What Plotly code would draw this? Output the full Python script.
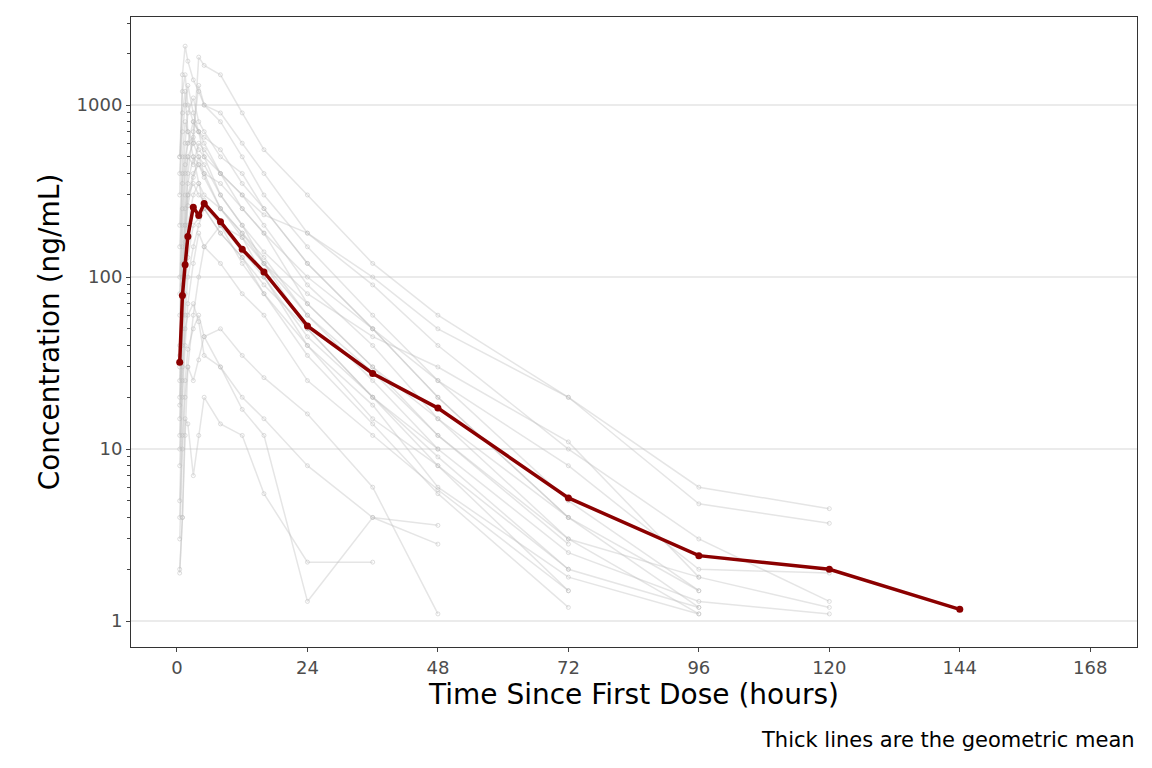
import plotly.graph_objects as go

times = [0.5, 1, 1.5, 2, 3, 4, 5, 8, 12, 16, 24, 36, 48, 72, 96, 120]

subjects = [
    [300, 1500, 2200, 1800, 1400, 1200, 1000, 900, 600, 400, 180, 90, 40, 10, 3, 1.3],
    [20, 80, 200, 400, 700, 1300, 1000, 800, 500, 300, 150, 60, 25, 5, 1.5],
    [2, 4, 12, 30, 60, 100, 150, 200, 120, 80, 40, 15, 8, 2],
    [100, 400, 600, 900, 1100, 800, 700, 500, 400, 250, 120, 50, 20, 4, 1.2],
    [40, 150, 300, 500, 450, 600, 550, 400, 300, 200, 90, 40, 15, 3, 1.1],
    [8, 25, 60, 100, 150, 200, 250, 180, 130, 90, 50, 20, 10, 2.5, 1.3, 1.1],
    [500, 1200, 1500, 1000, 800, 700, 500, 300, 200, 120, 50, 20, 8, 1.5],
    [3, 10, 20, 30, 25, 33, 45, 30, 20, 15, 8, 4, 2.8],
    [200, 500, 800, 700, 600, 500, 400, 250, 180, 120, 60, 25, 10],
    [15, 50, 120, 200, 300, 350, 300, 250, 180, 130, 60, 28, 12, 3, 1.8, 1.2],
    [1.9, 4, 15, 14, 7, 12, 20, 14, 12, 5.5, 2.2, 2.2],
    [60, 200, 400, 500, 600, 1900, 1700, 1500, 900, 550, 300, 120, 60, 20, 6, 4.5],
    [25, 90, 150, 300, 400, 450, 380, 250, 170, 100, 45, 20, 9, 2, 1.2],
    [10, 30, 50, 60, 70, 55, 35, 30, 17, 12, 1.3, 4, 3.6],
    [400, 700, 1000, 1300, 900, 700, 600, 400, 250, 180, 70, 30, 12, 2.8],
    [30, 100, 250, 350, 500, 450, 400, 350, 250, 180, 100, 50, 25, 8, 2, 1.9],
    [5, 20, 40, 70, 120, 180, 150, 120, 80, 60, 25, 12, 5.8, 1.5],
    [150, 350, 500, 600, 650, 550, 500, 400, 300, 230, 180, 100, 50, 20, 4.8, 3.7],
    [80, 250, 450, 600, 800, 700, 650, 550, 350, 250, 120, 50, 20, 4],
    [12, 40, 80, 130, 200, 220, 260, 200, 140, 100, 40, 18, 6, 1.8, 1.1],
    [35, 120, 200, 300, 350, 300, 280, 200, 170, 120, 70, 30, 15, 4, 1.5],
    [4, 12, 25, 38, 50, 60, 45, 50, 35, 26, 16, 6, 1.1],
    [500, 900, 1200, 700, 500, 350, 250, 180, 130, 80, 35, 14, 5.5, 1.2],
    [18, 60, 160, 260, 380, 500, 450, 300, 200, 140, 80, 45, 30, 11, 1.8],
]

mean_times = [0.5, 1, 1.5, 2, 3, 4, 5, 8, 12, 16, 24, 36, 48, 72, 96, 120, 144]
mean_conc = [32, 78, 118, 172, 255, 228, 268, 210, 145, 107, 52, 27.5, 17.3, 5.2, 2.4, 2.0, 1.17]

fig = go.Figure()

for conc in subjects:
    fig.add_trace(go.Scatter(
        x=times[:len(conc)], y=conc, mode="lines+markers",
        line=dict(color="rgba(190,190,190,0.4)", width=1.5),
        marker=dict(symbol="circle-open", size=4, color="rgba(190,190,190,0.5)"),
        showlegend=False, hoverinfo="skip",
    ))

fig.add_trace(go.Scatter(
    x=mean_times, y=mean_conc, mode="lines+markers",
    line=dict(color="#8B0000", width=3.5),
    marker=dict(size=7, color="#8B0000"),
    showlegend=False,
))

fig.add_annotation(
    text="Thick lines are the geometric mean", xref="paper", yref="paper",
    x=1, y=-0.125, xanchor="right", yanchor="top", showarrow=False,
    font=dict(size=21, color="black"),
)

fig.update_xaxes(
    range=[-8.46, 176.6], tickvals=[0, 24, 48, 72, 96, 120, 144, 168],
    showgrid=False, zeroline=False, ticks="outside", ticklen=4,
    showline=True, mirror=True, linecolor="#333333", linewidth=1,
    title=dict(text="Time Since First Dose (hours)", font=dict(size=28, color="black"), standoff=4),
    tickfont=dict(size=18, color="#4d4d4d"),
)
fig.update_yaxes(
    type="log", range=[-0.151, 3.512], tickvals=[1, 10, 100, 1000],
    ticktext=["1", "10", "100", "1000"],
    showgrid=True, gridcolor="#ebebeb", gridwidth=1.5, zeroline=False,
    ticks="outside", ticklen=4,
    minor=dict(ticks="outside", ticklen=3, tickvals=[v * m for m in [1, 10, 100, 1000] for v in range(2, 10)], showgrid=False),
    showline=True, mirror=True, linecolor="#333333", linewidth=1,
    title=dict(text="Concentration (ng/mL)", font=dict(size=28, color="black"), standoff=8),
    tickfont=dict(size=18, color="#4d4d4d"),
)

fig.update_layout(
    width=1152, height=768,
    margin=dict(l=123, r=23, t=9, b=129),
    plot_bgcolor="white", paper_bgcolor="white",
    font=dict(family="DejaVu Sans"),
)

fig.write_html("out.html")
